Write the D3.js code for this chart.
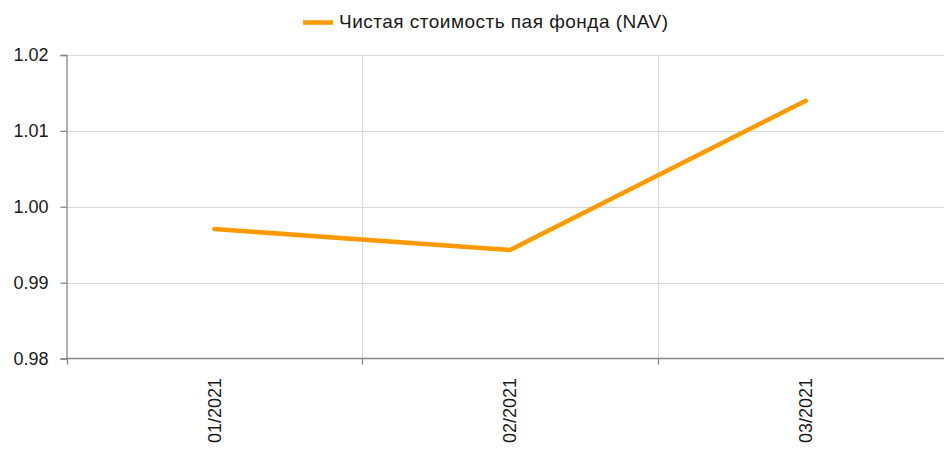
<!DOCTYPE html>
<meta charset="utf-8">
<title>NAV</title>
<style>
    body { margin: 0; background: #fff; }
    svg text { font-family: "Liberation Sans", Arial, sans-serif; fill: #1a1a1a; }
</style>
<body>
<svg id="chart" width="944" height="450"></svg>
<script src="https://cdnjs.cloudflare.com/ajax/libs/d3/7.8.5/d3.min.js"></script>
<script>
    // data
    var months = ["01/2021", "02/2021", "03/2021"];
    var nav = [0.99706, 0.99429, 1.01398];
    var yTicks = [0.98, 0.99, 1.00, 1.01, 1.02];
    var seriesName = "Чистая стоимость пая фонда (NAV)";

    var svg = d3.select("#chart");
    var plotLeft = 66.5, plotRight = 953.5, plotTop = 55, plotBottom = 358.5;

    var x = d3.scaleBand().domain(months).range([plotLeft, plotRight]);
    var y = d3.scaleLinear().domain([0.98, 1.02]).range([plotBottom, plotTop]);

    // horizontal grid
    svg.append("g").selectAll("line")
        .data(yTicks.filter(function (d) { return d > 0.98; }))
        .enter().append("line")
        .attr("x1", plotLeft).attr("x2", 944)
        .attr("y1", function (d) { return Math.round(y(d)) + 0.5; })
        .attr("y2", function (d) { return Math.round(y(d)) + 0.5; })
        .attr("stroke", "#d9d9d9").attr("stroke-width", 1.2);

    // vertical grid at band boundaries
    var bounds = months.slice(1).map(function (m) { return x(m); });
    svg.append("g").selectAll("line")
        .data(bounds)
        .enter().append("line")
        .attr("x1", function (d) { return Math.round(d) + 0.5; })
        .attr("x2", function (d) { return Math.round(d) + 0.5; })
        .attr("y1", plotTop).attr("y2", plotBottom)
        .attr("stroke", "#d9d9d9").attr("stroke-width", 1.2);

    // y axis
    var yAxis = svg.append("g")
        .attr("transform", "translate(" + plotLeft + ",0)")
        .call(d3.axisLeft(y).tickValues(yTicks).tickFormat(d3.format(".2f")).tickSize(6).tickPadding(12));
    yAxis.selectAll("path, line").attr("stroke", "#868686").attr("stroke-width", 1.3);
    yAxis.selectAll("text").attr("font-size", 18).attr("font-family", "Liberation Sans, Arial, sans-serif").attr("fill", "#1a1a1a");

    // x axis line and ticks between categories
    svg.append("line")
        .attr("x1", plotLeft).attr("x2", 944)
        .attr("y1", plotBottom).attr("y2", plotBottom)
        .attr("stroke", "#868686").attr("stroke-width", 1.6);
    svg.append("g").selectAll("line")
        .data([plotLeft].concat(bounds))
        .enter().append("line")
        .attr("x1", function (d) { return Math.round(d) + 0.5; })
        .attr("x2", function (d) { return Math.round(d) + 0.5; })
        .attr("y1", plotBottom).attr("y2", plotBottom + 6)
        .attr("stroke", "#868686").attr("stroke-width", 1.3);

    // x labels, rotated
    svg.append("g").selectAll("text")
        .data(months)
        .enter().append("text")
        .attr("transform", function (d) {
            return "translate(" + (x(d) + x.bandwidth() / 2) + ",378) rotate(-90)";
        })
        .attr("text-anchor", "end")
        .attr("dy", "0.35em")
        .attr("font-size", 18)
        .text(function (d) { return d; });

    // series line
    var line = d3.line()
        .x(function (d, i) { return x(months[i]) + x.bandwidth() / 2; })
        .y(function (d) { return y(d); });
    svg.append("path")
        .datum(nav)
        .attr("d", line)
        .attr("fill", "none")
        .attr("stroke", "#ff9900")
        .attr("stroke-width", 4.5)
        .attr("stroke-linecap", "round")
        .attr("stroke-linejoin", "round");

    // legend
    var legend = svg.append("g");
    legend.append("line")
        .attr("x1", 303).attr("x2", 333).attr("y1", 22.5).attr("y2", 22.5)
        .attr("stroke", "#ff9900").attr("stroke-width", 4.5);
    legend.append("text")
        .attr("x", 339).attr("y", 21).attr("dy", "0.35em")
        .attr("font-size", 19)
        .attr("textLength", 329)
        .attr("lengthAdjust", "spacing")
        .text(seriesName);
</script>
</body>
